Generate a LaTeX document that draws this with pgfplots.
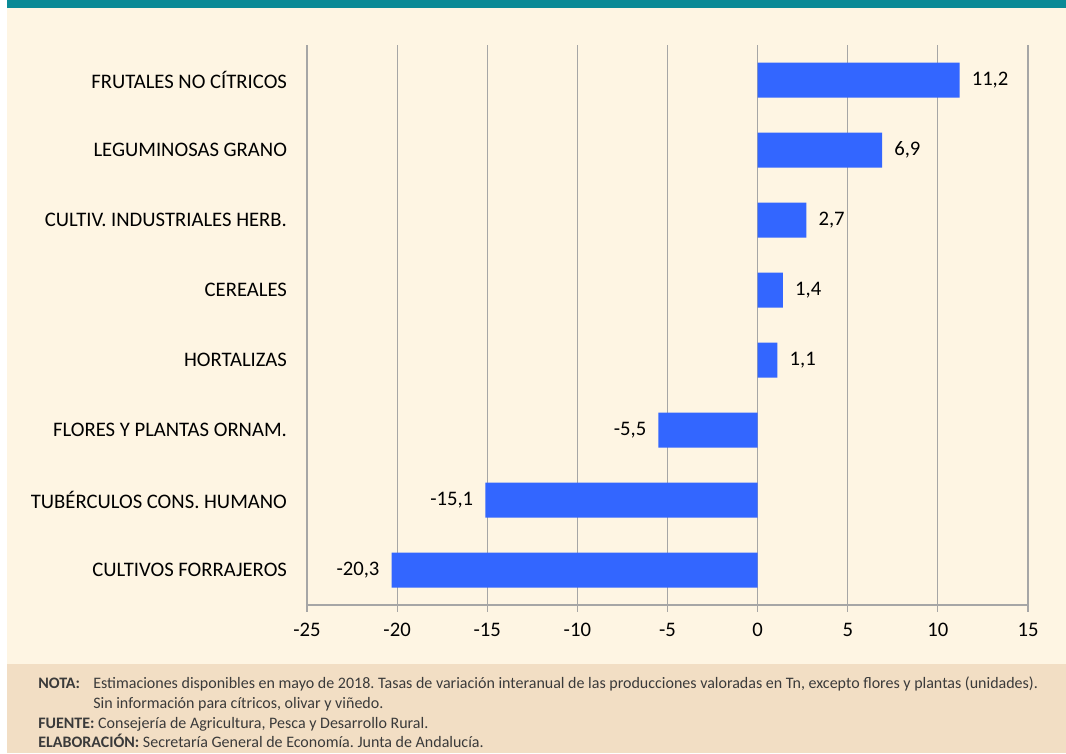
\documentclass[border=0pt]{standalone}
\usepackage{pgfplots}
\pgfplotsset{compat=1.18}
\usepackage{fontspec}
\setmainfont{Carlito}
\frenchspacing
\definecolor{hdteal}{HTML}{0A8A96}
\definecolor{cream}{HTML}{FEF5E3}
\definecolor{footbg}{HTML}{F2DEC4}
\definecolor{barblue}{HTML}{3366FF}
\definecolor{gridgray}{HTML}{A6A6A6}
\definecolor{foottext}{HTML}{3A3A3A}
\begin{document}
\begin{tikzpicture}
\fill[white] (0pt,0pt) rectangle (799.5pt,-564.75pt);
\fill[hdteal] (5.25pt,0pt) rectangle (799.5pt,-6pt);
\fill[cream] (5.25pt,-6pt) rectangle (799.5pt,-498pt);
\fill[footbg] (5.25pt,-498pt) rectangle (799.5pt,-564.75pt);
\begin{axis}[
  at={(230.25pt,-453.75pt)}, anchor=south west,
  scale only axis, width=540.75pt, height=420pt,
  xbar, bar width=0.5,
  xmin=-25, xmax=15, ymin=-0.5, ymax=7.5,
  xtick={-25,-20,-15,-10,-5,0,5,10,15},
  ytick={0,1,2,3,4,5,6,7},
  yticklabels={CULTIVOS FORRAJEROS,TUBÉRCULOS CONS. HUMANO,FLORES Y PLANTAS ORNAM.,HORTALIZAS,CEREALES,CULTIV. INDUSTRIALES HERB.,LEGUMINOSAS GRANO,FRUTALES NO CÍTRICOS},
  axis x line=bottom, axis y line=left,
  axis line style={gridgray, line width=0.9pt, -},
  xmajorgrids, major grid style={gridgray, line width=0.9pt},
  tick style={gridgray, line width=0.9pt},
  xtick align=outside, major tick length=5pt,
  ytick style={draw=none},
  ticklabel style={font=\fontsize{15.5}{18}\selectfont, text=black},
  xticklabel style={yshift=-5pt},
  yticklabel style={xshift=-9pt},
  /pgf/number format/assume math mode=true,
  nodes near coords={\pgfmathprintnumber[use comma,fixed,fixed zerofill,precision=1]{\pgfplotspointmeta}},
  nodes near coords align={horizontal},
  every node near coord/.append style={font=\fontsize{15.5}{18}\selectfont, text=black, inner xsep=9pt},
]
\addplot[fill=barblue, draw=none] coordinates {
(-20.3,0) (-15.1,1) (-5.5,2) (1.1,3) (1.4,4) (2.7,5) (6.9,6) (11.2,7)
};
\end{axis}
\begin{scope}[every node/.style={anchor=base west, inner sep=0pt, font=\fontsize{12}{14}\selectfont, text=foottext}]
\node at (28.5pt,-516pt) {\textbf{NOTA:}};
\node at (69.75pt,-516pt) {Estimaciones disponibles en mayo de 2018. Tasas de variación interanual de las producciones valoradas en Tn, excepto flores y plantas (unidades).};
\node at (69.75pt,-531pt) {Sin información para cítricos, olivar y viñedo.};
\node at (28.5pt,-546pt) {\textbf{FUENTE:} Consejería de Agricultura, Pesca y Desarrollo Rural.};
\node at (28.5pt,-560.25pt) {\textbf{ELABORACIÓN:} Secretaría General de Economía. Junta de Andalucía.};
\end{scope}
\end{tikzpicture}
\end{document}
